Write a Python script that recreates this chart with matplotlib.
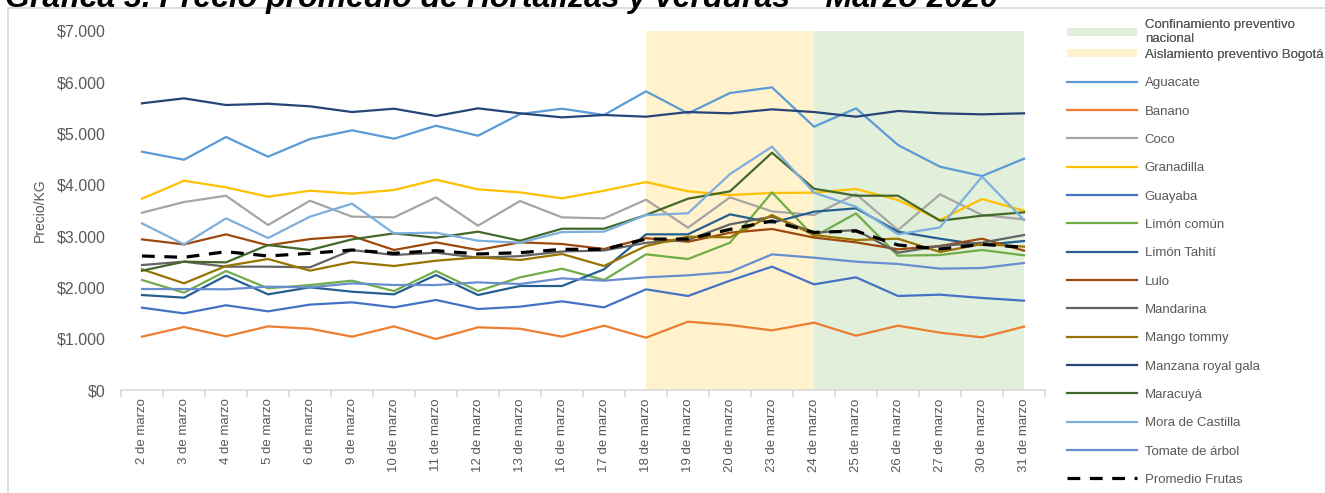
import matplotlib
matplotlib.use("Agg")
import matplotlib.pyplot as plt
from matplotlib.patches import Patch, Rectangle

plt.rcParams['font.family'] = ['Liberation Sans', 'DejaVu Sans']

fechas = ['2 de marzo', '3 de marzo', '4 de marzo', '5 de marzo', '6 de marzo',
          '9 de marzo', '10 de marzo', '11 de marzo', '12 de marzo', '13 de marzo',
          '16 de marzo', '17 de marzo', '18 de marzo', '19 de marzo', '20 de marzo',
          '23 de marzo', '24 de marzo', '25 de marzo', '26 de marzo', '27 de marzo',
          '30 de marzo', '31 de marzo']

aguacate = [4646, 4490, 4933, 4549, 4894, 5063, 4900, 5153, 4958, 5381, 5485,
            5362, 5824, 5394, 5791, 5901, 5134, 5492, 4777, 4354, 4172, 4510]
banano = [1040, 1228, 1046, 1241, 1195, 1040, 1241, 994, 1222, 1195, 1040,
          1254, 1020, 1332, 1267, 1163, 1313, 1059, 1254, 1118, 1027, 1235]
coco = [3457, 3665, 3788, 3217, 3691, 3380, 3366, 3756, 3204, 3685, 3366,
        3347, 3711, 3165, 3756, 3483, 3412, 3821, 3119, 3815, 3412, 3327]
granadilla = [3730, 4081, 3951, 3769, 3886, 3828, 3899, 4101, 3913, 3854, 3737,
              3886, 4055, 3874, 3802, 3841, 3848, 3919, 3704, 3314, 3724, 3496]
guayaba = [1605, 1494, 1652, 1534, 1665, 1710, 1612, 1755, 1579, 1625, 1729,
           1612, 1963, 1833, 2132, 2405, 2060, 2197, 1833, 1859, 1794, 1742]
limon_comun = [2145, 1898, 2320, 1983, 2047, 2132, 1930, 2320, 1930, 2197, 2366,
               2145, 2645, 2554, 2872, 3853, 2990, 3444, 2619, 2632, 2730, 2626]
limon_tahiti = [1852, 1800, 2229, 1865, 2002, 1917, 1865, 2242, 1852, 2028, 2028,
                2353, 3035, 3035, 3425, 3262, 3477, 3542, 3087, 2950, 2827, 2905]
lulo = [2937, 2839, 3035, 2821, 2943, 3002, 2730, 2879, 2730, 2879, 2847,
        2749, 2960, 2890, 3067, 3139, 2972, 2879, 2743, 2808, 2950, 2717]
mandarina = [2437, 2502, 2405, 2405, 2392, 2730, 2632, 2678, 2580, 2610, 2700,
             2720, 2870, 2925, 3230, 3380, 3067, 3119, 2678, 2808, 2872, 3022]
mango = [2353, 2080, 2418, 2554, 2327, 2495, 2418, 2521, 2587, 2535, 2652,
         2418, 2808, 2990, 2976, 3412, 3022, 2925, 2950, 2691, 2847, 2795]
manzana = [5590, 5687, 5557, 5582, 5531, 5420, 5485, 5342, 5492, 5395, 5316,
           5362, 5329, 5420, 5395, 5472, 5420, 5329, 5440, 5395, 5375, 5395]
maracuya = [2326, 2502, 2489, 2827, 2730, 2937, 3054, 2970, 3087, 2911, 3145,
            3145, 3412, 3730, 3874, 4627, 3925, 3789, 3789, 3301, 3399, 3464]
mora = [3249, 2839, 3347, 2963, 3380, 3633, 3054, 3067, 2911, 2872, 3080,
        3087, 3412, 3445, 4211, 4744, 3848, 3574, 3035, 3171, 4159, 3314]
tomate = [1969, 1969, 1963, 2015, 2002, 2080, 2047, 2047, 2099, 2067, 2177,
          2132, 2197, 2236, 2301, 2645, 2580, 2502, 2457, 2366, 2379, 2476]
promedio = [2613, 2587, 2697, 2613, 2665, 2730, 2665, 2717, 2652, 2678, 2743,
            2743, 2943, 2943, 3132, 3295, 3073, 3100, 2827, 2749, 2840, 2782]

series = [
    ('Aguacate', aguacate, '#5B9BD5'),
    ('Banano', banano, '#ED7D31'),
    ('Coco', coco, '#A5A5A5'),
    ('Granadilla', granadilla, '#FFC000'),
    ('Guayaba', guayaba, '#4472C4'),
    ('Limón común', limon_comun, '#70AD47'),
    ('Limón Tahití', limon_tahiti, '#255E91'),
    ('Lulo', lulo, '#9E480E'),
    ('Mandarina', mandarina, '#636363'),
    ('Mango tommy', mango, '#997300'),
    ('Manzana royal gala', manzana, '#264478'),
    ('Maracuyá', maracuya, '#43682B'),
    ('Mora de Castilla', mora, '#7CAFDD'),
    ('Tomate de árbol', tomate, '#698ED0'),
]

inicio_aislamiento = '18 de marzo'
inicio_confinamiento = '24 de marzo'
fin_periodo = '31 de marzo'

fig = plt.figure(figsize=(13.25, 4.93), dpi=100)
W, H = 1325, 493
ax = fig.add_axes([121 / W, 1 - 390 / H, (1045 - 121) / W, (390 - 31) / H])

# marco gris del area del grafico
fig.patches.append(Rectangle((8 / W, -0.1), 1.1, 1.1 - 8 / H,
                             transform=fig.transFigure, fill=False,
                             edgecolor='#D9D9D9', linewidth=1.2))

x = list(range(len(fechas)))
a0 = fechas.index(inicio_aislamiento)
c0 = fechas.index(inicio_confinamiento)
c1 = fechas.index(fin_periodo)
ax.axvspan(a0, c0, color='#FFF2CC', lw=0, zorder=0)
ax.axvspan(c0, c1, color='#E2EFDA', lw=0, zorder=0)

for nombre, vals, col in series:
    ax.plot(x, vals, color=col, lw=1.6, label=nombre)
ax.plot(x, promedio, color='black', lw=2.3, dashes=(4, 3), label='Promedio Frutas')

ax.set_xlim(-0.5, len(fechas) - 0.5)
ax.set_ylim(0, 7000)
ax.set_yticks(range(0, 7001, 1000))
ax.set_yticklabels(['$0' if v == 0 else '${:,}'.format(v).replace(',', '.')
                    for v in range(0, 7001, 1000)])
ax.set_xticks(x)
ax.set_xticklabels(fechas, rotation=90, fontsize=9.5, color='#595959')
ax.set_xticks([i - 0.5 for i in range(len(fechas) + 1)], minor=True)
ax.tick_params(axis='x', which='major', length=0, pad=6)
ax.tick_params(axis='x', which='minor', length=5, color='#D9D9D9', width=1.2)
ax.tick_params(axis='y', length=0, labelsize=11.5, labelcolor='#595959', pad=11)
for s in ['top', 'right', 'left']:
    ax.spines[s].set_visible(False)
ax.spines['bottom'].set_color('#D9D9D9')
ax.spines['bottom'].set_linewidth(1.2)
ax.set_ylabel('Precio/KG', fontsize=10, color='#595959')
ax.yaxis.set_label_coords(-0.080, 0.5)

# leyenda de los periodos
periodos = [Patch(facecolor='#E2EFDA', edgecolor='none'),
            Patch(facecolor='#FFF2CC', edgecolor='none')]
leg1 = fig.legend(periodos,
                  ['Confinamiento preventivo\nnacional', 'Aislamiento preventivo Bogotá'],
                  loc='upper left', bbox_to_anchor=(1067 / W, 1 - 19 / H),
                  frameon=False, fontsize=9.5, labelcolor='#595959',
                  handlelength=5.3, handleheight=0.55, handletextpad=0.6,
                  labelspacing=0.3, borderpad=0, borderaxespad=0)

# leyenda de las series
handles, labels = ax.get_legend_handles_labels()
fig.legend(handles, labels,
           loc='upper left', bbox_to_anchor=(1067 / W, 1 - 77 / H),
           frameon=False, fontsize=9.5, labelcolor='#595959',
           handlelength=5.3, handletextpad=0.6,
           labelspacing=1.22, borderpad=0, borderaxespad=0)
fig.add_artist(leg1)

fig.text(5 / W, 1 - 7 / H, 'Gráfica 3. Precio promedio de Hortalizas y verduras – Marzo 2020',
         fontsize=23, fontweight='bold', fontstyle='italic', va='baseline', ha='left')

fig.savefig('out.png', dpi=100)
